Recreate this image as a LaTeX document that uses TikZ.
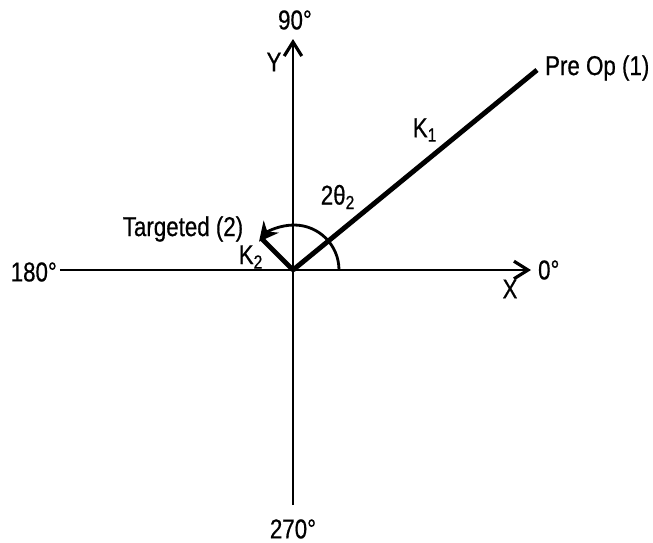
\documentclass[tikz,border=0pt]{standalone}
\usepackage{fontspec}
\setmainfont{Liberation Sans}[FakeStretch=0.82, FakeBold=0.6]
\usepackage{tikz}
\usetikzlibrary{arrows.meta}

\begin{document}
\begin{tikzpicture}[
    x=0.02cm, y=0.02cm,
    axis/.style={line width=1.1pt, -{Straight Barb[length=8pt, width=10pt, line width=1.8pt]}},
    plainaxis/.style={line width=1.1pt},
    vecline/.style={line width=2.8pt},
    anglearc/.style={line width=1.6pt, -{Stealth[length=11pt, width=11pt]}},
    lbl/.style={font=\fontsize{15.5}{18}\selectfont, inner sep=1pt},
    every node/.style={lbl}
]
\useasboundingbox (-293, -272) rectangle (360, 270);
\coordinate (O) at (0, 0);
\coordinate (xend) at (238, 0);
\coordinate (xstart) at (-233, 0);
\coordinate (yend) at (0, 231);
\coordinate (ystart) at (0, -235);
\coordinate (preop) at (244, 200);
\coordinate (target) at (-31, 31);
% axes
\draw[plainaxis] (xstart) -- (O);
\draw[axis] (O) -- (xend);
\draw[plainaxis] (ystart) -- (O);
\draw[axis] (O) -- (yend);
% vectors
\draw[vecline] (O) -- (preop);
\draw[vecline] (O) -- (target);
\draw[anglearc] (46, 0) arc[start angle=0, end angle=141, radius=45];
% labels
\node (lbl90) at (2, 250) {90°};
\node (lbl270) at (0, -259) {270°};
\node[anchor=east] (lbl180) at (-234, -2) {180°};
\node[anchor=west] (lbl0) at (243, 0) {0°};
\node (lblx) at (217, -19) {X};
\node (lbly) at (-19, 208) {Y};
\node[anchor=west] (lblpre) at (250, 202) {Pre Op (1)};
\node (lblk1) at (132, 140) {K\textsubscript{1}};
\node (lbltheta) at (45, 73) {2θ\textsubscript{2}};
\node (lbltarget) at (-110, 41) {Targeted (2)};
\node (lblk2) at (-42, 13) {K\textsubscript{2}};
\end{tikzpicture}
\end{document}
